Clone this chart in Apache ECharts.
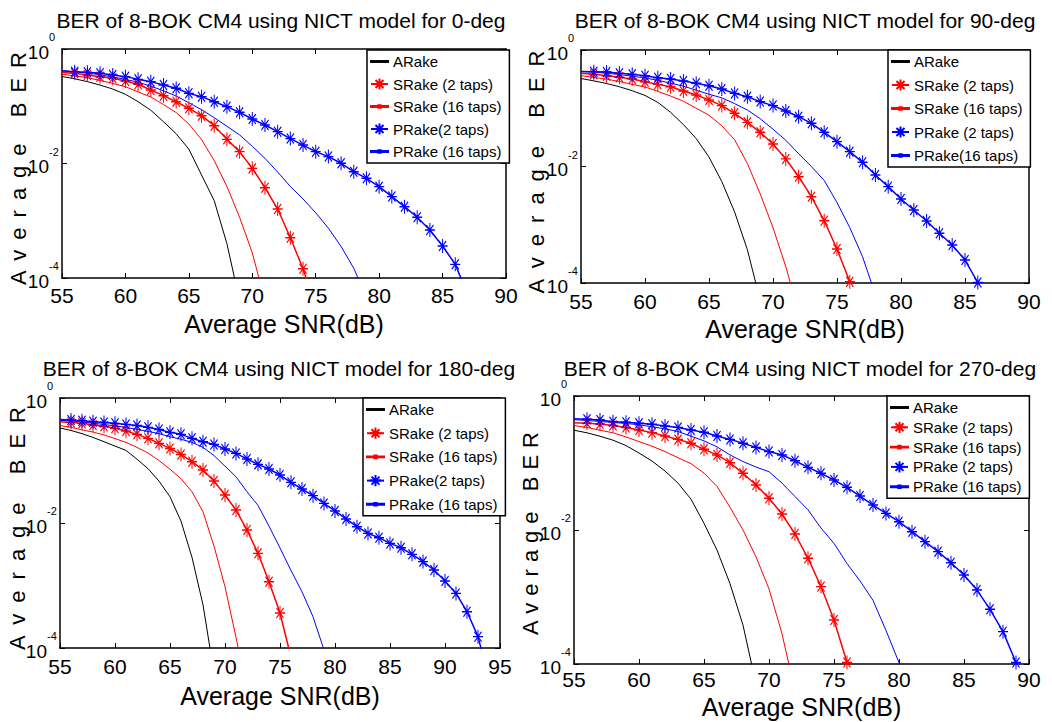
<!DOCTYPE html>
<html>
<head>
<meta charset="utf-8">
<script src="https://cdn.jsdelivr.net/npm/echarts@6/dist/echarts.min.js"></script>
<style>
html,body{margin:0;padding:0;background:#fff;}
#chart{width:1052px;height:722px;}
</style>
</head>
<body>
<div id="chart"></div>
<script>
// ---------------- data ----------------
const SNR_DB = [55,56,57,58,59,60,61,62,63,64,65,66,67,68,69,70,71,72,73,74,75,76,77,78,79,80,81,82,83,84,85,86,87,88,89,90,91,92,93,94];

const TITLES = [
  'BER of 8-BOK CM4 using NICT model for 0-deg',
  'BER of 8-BOK CM4 using NICT model for 90-deg',
  'BER of 8-BOK CM4 using NICT model for 180-deg',
  'BER of 8-BOK CM4 using NICT model for 270-deg'
];
const X_AXIS_NAME = 'Average SNR(dB)';
const Y_AXIS_NAME = 'Average BER';
const X_MIN = 55;
const X_MAX = [90, 90, 95, 90];
const X_TICK_STEP = 5;
const Y_MIN = 1e-4;
const Y_MAX = 1;
const Y_TICK_VALUES = [1e-4, 1e-2, 1];
const Y_TICK_BASE = '10';

const LEGEND_NAMES = [
  ['ARake', 'SRake (2 taps)', 'SRake (16 taps)', 'PRake(2 taps)', 'PRake (16 taps)'],
  ['ARake', 'SRake (2 taps)', 'SRake (16 taps)', 'PRake (2 taps)', 'PRake(16 taps)'],
  ['ARake', 'SRake (2 taps)', 'SRake (16 taps)', 'PRake(2 taps)', 'PRake (16 taps)'],
  ['ARake', 'SRake (2 taps)', 'SRake (16 taps)', 'PRake (2 taps)', 'PRake (16 taps)']
];

// 0-deg
const BER_0_ARAKE   = [0.331,0.302,0.269,0.234,0.200,0.162,0.120,0.0851,0.0537,0.0331,0.0178,0.00631,0.00224,3.98e-4,3.98e-5];
const BER_0_SRAKE2  = [0.389,0.376,0.352,0.329,0.308,0.276,0.242,0.192,0.153,0.120,0.0920,0.0684,0.0458,0.0264,0.0161,0.00822,0.00378,0.00160,5.06e-4,1.45e-4,3.16e-5];
const BER_0_SRAKE16 = [0.363,0.339,0.316,0.282,0.251,0.219,0.178,0.145,0.107,0.0776,0.0490,0.0263,0.0112,0.00398,0.00115,2.75e-4,3.98e-5];
const BER_0_PRAKE2  = [0.417,0.402,0.391,0.376,0.352,0.329,0.295,0.269,0.235,0.206,0.168,0.147,0.120,0.0984,0.0783,0.0598,0.0470,0.0360,0.0272,0.0210,0.0161,0.0132,0.0101,0.00719,0.00551,0.00394,0.00264,0.00176,0.00115,6.89e-4,3.62e-4,1.73e-4,5.01e-5];
const BER_0_PRAKE16 = [0.417,0.398,0.380,0.355,0.324,0.295,0.263,0.224,0.186,0.151,0.115,0.0871,0.0631,0.0447,0.0316,0.0200,0.0123,0.00708,0.00398,0.00240,0.00138,7.41e-4,3.55e-4,1.48e-4,4.47e-5];

// 90-deg
const BER_90_ARAKE   = [0.324,0.295,0.266,0.234,0.200,0.166,0.126,0.0851,0.0525,0.0302,0.0145,0.00550,0.00166,3.72e-4,5.01e-5];
const BER_90_SRAKE2  = [0.398,0.382,0.362,0.340,0.318,0.286,0.257,0.234,0.198,0.169,0.139,0.111,0.0818,0.0573,0.0386,0.0243,0.0135,0.00668,0.00303,0.00117,3.83e-4,1.05e-4,2.0e-5];
const BER_90_SRAKE16 = [0.363,0.339,0.316,0.288,0.257,0.232,0.195,0.162,0.132,0.100,0.0759,0.0501,0.0288,0.0112,0.00339,8.91e-4,1.91e-4,3.16e-5];
const BER_90_PRAKE2  = [0.427,0.425,0.419,0.397,0.382,0.362,0.335,0.318,0.294,0.268,0.244,0.214,0.180,0.158,0.130,0.111,0.0897,0.0716,0.0551,0.0386,0.0267,0.0180,0.0118,0.00715,0.00451,0.00277,0.00179,0.00116,7.13e-4,4.49e-4,2.48e-4,1.02e-4,2.5e-5];
const BER_90_PRAKE16 = [0.427,0.417,0.398,0.380,0.355,0.331,0.302,0.269,0.240,0.204,0.174,0.151,0.120,0.0933,0.0661,0.0437,0.0282,0.0166,0.0100,0.00575,0.00240,8.91e-4,2.82e-4,6.31e-5];

// 180-deg
const BER_180_ARAKE   = [0.331,0.302,0.269,0.234,0.200,0.170,0.145,0.105,0.0741,0.0468,0.0263,0.0107,0.00282,4.90e-4,3.98e-5];
const BER_180_SRAKE2  = [0.417,0.407,0.393,0.370,0.352,0.327,0.296,0.262,0.226,0.188,0.156,0.125,0.0957,0.0703,0.0470,0.0281,0.0161,0.00773,0.00327,0.00115,3.63e-4,7.08e-5];
const BER_180_SRAKE16 = [0.363,0.339,0.309,0.285,0.257,0.224,0.195,0.162,0.132,0.100,0.0724,0.0513,0.0316,0.0151,0.00427,9.55e-4,1.48e-4,2.0e-5];
const BER_180_PRAKE2  = [0.452,0.445,0.434,0.418,0.407,0.393,0.378,0.363,0.339,0.313,0.282,0.262,0.226,0.200,0.181,0.153,0.130,0.106,0.0867,0.0731,0.0586,0.0447,0.0350,0.0274,0.0206,0.0156,0.0116,0.00873,0.00682,0.00582,0.00472,0.00403,0.00315,0.00241,0.00177,0.00118,7.48e-4,3.81e-4,1.52e-4,3.16e-5];
const BER_180_PRAKE16 = [0.440,0.428,0.412,0.395,0.377,0.358,0.337,0.316,0.292,0.269,0.240,0.219,0.195,0.162,0.120,0.0813,0.0550,0.0316,0.0191,0.00891,0.00398,0.00174,7.94e-4,3.16e-4,9.33e-5];

// 270-deg
const BER_270_ARAKE   = [0.309,0.282,0.251,0.219,0.182,0.141,0.107,0.0759,0.0501,0.0288,0.0126,0.00501,0.00158,3.80e-4,5.01e-5];
const BER_270_SRAKE2  = [0.398,0.391,0.382,0.363,0.339,0.311,0.284,0.253,0.225,0.197,0.160,0.132,0.101,0.0702,0.0470,0.0297,0.0173,0.00871,0.00378,0.00143,4.54e-4,1.05e-4,2.0e-5];
const BER_270_SRAKE16 = [0.363,0.339,0.309,0.282,0.245,0.209,0.178,0.148,0.120,0.0977,0.0708,0.0447,0.0219,0.0100,0.00398,0.00132,2.82e-4,3.98e-5];
const BER_270_PRAKE2  = [0.457,0.449,0.439,0.414,0.405,0.391,0.378,0.356,0.340,0.311,0.287,0.253,0.225,0.197,0.171,0.148,0.132,0.108,0.0861,0.0702,0.0557,0.0434,0.0321,0.0236,0.0177,0.0133,0.00944,0.00670,0.00475,0.00325,0.00213,0.00127,6.55e-4,3.04e-4,1.05e-4,2.5e-5];
const BER_270_PRAKE16 = [0.442,0.432,0.417,0.403,0.389,0.372,0.347,0.324,0.295,0.251,0.214,0.174,0.132,0.105,0.0871,0.0741,0.0501,0.0316,0.0200,0.0107,0.00631,0.00316,0.00174,8.91e-4,3.16e-4,1.05e-4,2.51e-5];

const PANEL_DATA = [
  [BER_0_ARAKE, BER_0_SRAKE2, BER_0_SRAKE16, BER_0_PRAKE2, BER_0_PRAKE16],
  [BER_90_ARAKE, BER_90_SRAKE2, BER_90_SRAKE16, BER_90_PRAKE2, BER_90_PRAKE16],
  [BER_180_ARAKE, BER_180_SRAKE2, BER_180_SRAKE16, BER_180_PRAKE2, BER_180_PRAKE16],
  [BER_270_ARAKE, BER_270_SRAKE2, BER_270_SRAKE16, BER_270_PRAKE2, BER_270_PRAKE16]
];

// ---------------- layout / style ----------------
const FONT = '"Liberation Sans", Arial, Helvetica, sans-serif';

const LAYOUT = [
  {grid:{left:62, top:49, width:444, height:229}, title:[281,20.5], legend:{left:367, top:50, gap:7.5}, xGap:33, xMargin:7, yGap:33, ySpace:10},
  {grid:{left:581, top:50, width:448, height:233}, title:[805,20.5], legend:{left:888, top:50, gap:8.5}, xGap:33, xMargin:8, yGap:33.5, ySpace:11},
  {grid:{left:60, top:398, width:440, height:250}, title:[279,368.5], legend:{left:363, top:398, gap:8.7}, xGap:35, xMargin:8, yGap:31.5, ySpace:11},
  {grid:{left:574, top:396, width:455, height:268}, title:[800,368.5], legend:{left:887, top:396, gap:4.8}, xGap:30, xMargin:5, yGap:32.5, ySpace:7}
];

const ASTERISK = 'path://M0,-7L0,7M-7,0L7,0M-5,-5L5,5M-5,5L5,-5';
const ICON_LINE = 'path://M0,0H20V1.1H0Z';
const ICON_LINE_DOT = 'path://M0,1H20V2.1H0ZM8.6,0H11.4V3.1H8.6Z';

const STYLES = [
  {color:'#000000', width:1,   marker:false, icon:ICON_LINE},
  {color:'#ff0000', width:1.5, marker:true},
  {color:'#ff0000', width:1,   marker:false, icon:ICON_LINE_DOT},
  {color:'#0000ff', width:1.5, marker:true},
  {color:'#0000ff', width:1,   marker:false, icon:ICON_LINE_DOT}
];

function expOf(v) { return Math.round(Math.log10(v)); }
function baseLabel(v) { return expOf(v) % 2 === 0 ? Y_TICK_BASE : ''; }
function expLabel(v) { const e = expOf(v); return e % 2 === 0 ? String(e) : ''; }

const option = {
  animation: false,
  title: [], grid: [], xAxis: [], yAxis: [], legend: [], series: []
};

LAYOUT.forEach((L, p) => {
  option.title.push({
    text: TITLES[p], left: L.title[0], top: L.title[1],
    textAlign: 'center', textVerticalAlign: 'middle', padding: 0,
    textStyle: {fontFamily: FONT, fontSize: 21, fontWeight: 'normal', color: '#000'}
  });
  option.grid.push(Object.assign({show: false, containLabel: false}, L.grid));

  const axisLine = {show: true, lineStyle: {color: '#000', width: 1.5}};
  const axisTick = {show: true, inside: true, length: 5, lineStyle: {color: '#000', width: 1}};

  option.xAxis.push({
    type: 'value', gridIndex: p, position: 'bottom',
    min: X_MIN, max: X_MAX[p], interval: X_TICK_STEP,
    name: X_AXIS_NAME, nameLocation: 'middle', nameGap: L.xGap, nameMoveOverlap: false,
    nameTextStyle: {fontFamily: FONT, fontSize: 25, color: '#000'},
    axisLine, axisTick,
    axisLabel: {fontFamily: FONT, fontSize: 21, color: '#000', margin: L.xMargin},
    splitLine: {show: false}
  });
  option.xAxis.push({
    type: 'value', gridIndex: p, position: 'top',
    min: X_MIN, max: X_MAX[p], interval: X_TICK_STEP,
    axisLine, axisTick, axisLabel: {show: false}, splitLine: {show: false}
  });

  const yCommon = {
    type: 'log', logBase: 10, gridIndex: p, min: Y_MIN, max: Y_MAX,
    splitLine: {show: false}, minorTick: {show: false}
  };
  // main left axis: line, ticks, "10" labels, name
  option.yAxis.push(Object.assign({}, yCommon, {
    position: 'left', axisLine,
    axisTick: Object.assign({customValues: Y_TICK_VALUES}, axisTick),
    name: Y_AXIS_NAME, nameLocation: 'middle', nameRotate: 90, nameGap: L.yGap, nameMoveOverlap: false,
    nameTextStyle: {fontFamily: FONT, fontSize: 22, color: '#000'},
    axisLabel: {
      customValues: Y_TICK_VALUES, formatter: baseLabel,
      fontFamily: FONT, fontSize: 19, color: '#000', margin: 13,
      verticalAlign: 'top', lineHeight: 6
    }
  }));
  // right axis: frame + ticks
  option.yAxis.push(Object.assign({}, yCommon, {
    position: 'right', axisLine,
    axisTick: Object.assign({customValues: Y_TICK_VALUES}, axisTick),
    axisLabel: {show: false}
  }));
  // exponent labels (superscripts) on the left
  option.yAxis.push(Object.assign({}, yCommon, {
    position: 'left', axisLine: {show: false}, axisTick: {show: false},
    axisLabel: {
      customValues: Y_TICK_VALUES, formatter: expLabel,
      fontFamily: FONT, fontSize: 11, color: '#000', margin: 13, align: 'left',
      verticalAlign: 'bottom', lineHeight: 24
    }
  }));

  option.legend.push({
    left: L.legend.left, top: L.legend.top, orient: 'vertical',
    itemWidth: 17, itemHeight: 14, itemGap: L.legend.gap,
    padding: [4, 8, 4, 3],
    backgroundColor: '#fff', borderColor: '#000', borderWidth: 1.5, borderRadius: 0,
    selectedMode: false,
    textStyle: {fontFamily: FONT, fontSize: 15, color: '#000'},
    data: LEGEND_NAMES[p].map((n, k) => STYLES[k].icon ? {name: n, icon: STYLES[k].icon} : {name: n})
  });

  PANEL_DATA[p].forEach((arr, k) => {
    const st = STYLES[k];
    option.series.push({
      type: 'line', name: LEGEND_NAMES[p][k],
      xAxisIndex: 2 * p, yAxisIndex: 3 * p,
      data: arr.map((v, i) => (st.marker && i === 0) ? {value: [SNR_DB[i], v], symbol: 'none'} : [SNR_DB[i], v]),
      symbol: st.marker ? ASTERISK : 'none',
      symbolSize: [10, 14],
      showSymbol: st.marker,
      clip: true,
      silent: true,
      lineStyle: {color: st.color, width: st.width},
      itemStyle: {color: st.color, borderColor: st.color, borderWidth: 1.2}
    });
  });
});

const chart = echarts.init(document.getElementById('chart'), null, {renderer: 'svg'});
chart.setOption(option);

function spaceYNames() {
  document.querySelectorAll('#chart svg text').forEach(t => {
    if (t.textContent.trim() === Y_AXIS_NAME) {
      const r = t.getBoundingClientRect();
      const cx = r.left + r.width / 2, cy = r.top + r.height / 2;
      const idx = (cx > 526 ? 1 : 0) + (cy > 361 ? 2 : 0);
      t.style.letterSpacing = LAYOUT[idx].ySpace + 'px';
    }
  });
}
chart.on('finished', spaceYNames);
setTimeout(spaceYNames, 30);
</script>
</body>
</html>
